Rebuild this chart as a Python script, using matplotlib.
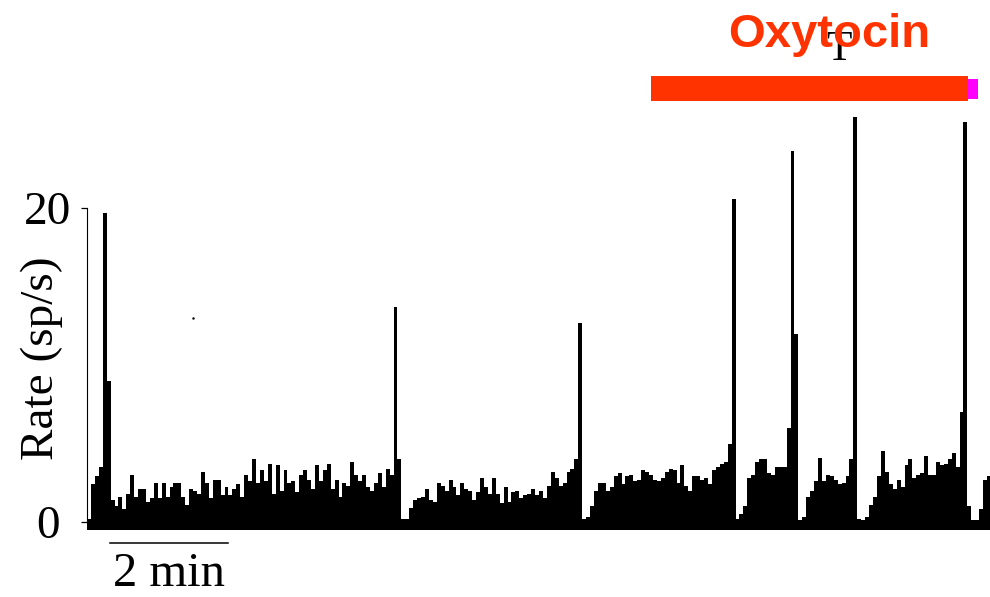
import numpy as np
import matplotlib
matplotlib.use('Agg')
import matplotlib.pyplot as plt
from matplotlib.patches import Rectangle

# spike rate, 4 s bins (sp/s)
bin_s = 4
rate = [
    0.2, 2.4, 2.9, 3.5, 19.7, 9.0, 1.4, 1.0, 1.6, 0.8,
    1.8, 3.0, 1.6, 2.1, 2.1, 1.3, 1.5, 2.5, 1.5, 2.5,
    1.6, 2.2, 2.5, 2.5, 1.6, 1.1, 2.1, 2.0, 1.8, 3.2,
    2.5, 1.5, 2.7, 2.7, 1.7, 2.2, 1.7, 2.1, 2.4, 1.6,
    3.0, 2.6, 4.0, 2.5, 3.3, 2.6, 3.7, 1.8, 3.6, 2.0,
    3.3, 2.5, 2.6, 1.9, 3.0, 3.3, 2.7, 2.1, 3.6, 2.6,
    3.3, 3.7, 2.1, 2.7, 1.6, 2.5, 2.3, 3.8, 3.0, 2.6,
    3.0, 2.2, 2.0, 2.5, 3.1, 2.2, 3.4, 3.0, 13.7, 4.0,
    0.2, 0.2, 0.9, 1.4, 1.5, 1.6, 2.1, 1.4, 1.3, 2.5,
    2.3, 2.0, 2.7, 2.2, 1.7, 2.5, 2.1, 2.0, 1.4, 1.9,
    2.8, 2.2, 1.8, 2.8, 1.8, 1.2, 2.2, 1.3, 1.9, 2.0,
    1.5, 1.7, 1.8, 2.1, 1.7, 2.0, 1.5, 2.3, 3.2, 2.8,
    2.3, 2.5, 3.2, 3.4, 4.0, 12.7, 0.2, 0.3, 1.0, 2.0,
    2.5, 2.5, 2.0, 2.2, 2.9, 3.1, 2.4, 2.9, 3.0, 2.6,
    2.7, 3.3, 3.2, 3.0, 2.7, 2.6, 2.8, 3.2, 3.4, 3.3,
    2.5, 3.6, 2.3, 2.0, 2.9, 2.9, 2.7, 2.8, 2.4, 3.3,
    3.5, 3.7, 3.8, 5.0, 20.6, 0.2, 0.5, 1.0, 2.8, 3.0,
    3.8, 4.0, 4.0, 3.1, 3.0, 3.5, 3.5, 3.5, 6.0, 23.6,
    12.0, 0.1, 0.3, 1.6, 2.0, 2.6, 4.1, 2.6, 3.0, 2.9,
    2.7, 2.4, 2.5, 2.9, 4.0, 25.8, 0.2, 0.1, 0.3, 1.1,
    1.6, 2.9, 4.5, 3.2, 2.4, 2.1, 2.7, 2.2, 3.6, 4.0,
    2.8, 3.0, 3.1, 4.2, 3.0, 3.0, 3.8, 3.6, 3.7, 4.0,
    4.4, 3.5, 7.0, 25.5, 1.0, 0.1, 0.1, 0.8, 2.7, 2.9,
]
yticks = [0, 20]

# oxytocin application (s)
oxy_start, oxy_end = 574, 897
oxy_tail = 907
scale_start, scale_len = 23.4, 120  # 2 min bar

plt.rcParams['font.family'] = ['Liberation Serif', 'DejaVu Serif']

fig = plt.figure(figsize=(9.9, 5.97), dpi=100)
ax = fig.add_axes([87 / 990, 66 / 597, 903 / 990, 531 / 597])

edges = np.arange(len(rate) + 1) * bin_s
ax.stairs(rate, edges, baseline=-0.5, fill=True, color='black', linewidth=0)

ax.set_xlim(0, 919)
ax.set_ylim(-0.573, 33.25)

for s in ['top', 'right', 'bottom']:
    ax.spines[s].set_visible(False)
ax.spines['left'].set_bounds(0, 20)
ax.spines['left'].set_linewidth(0.8)
ax.set_xticks([])
ax.set_yticks(yticks)
ax.set_yticklabels([str(t) for t in yticks])
ax.tick_params(axis='y', length=4.3, width=0.9, pad=24, labelsize=34)
for lab in ax.get_yticklabels():
    lab.set_ha('center')

fig.text(42 / 990, 1 - 358 / 597, 'Rate (sp/s)', rotation=90,
         ha='center', va='center', fontsize=34)

# scale bar
ax.plot([scale_start, scale_start + scale_len], [-1.34, -1.34],
        color='black', lw=1.1, clip_on=False)
fig.text(113 / 990, 1 - 586 / 597, '2 min', ha='left', va='baseline', fontsize=35)

# oxytocin bar + label
ax.add_patch(Rectangle((oxy_start, 26.8), oxy_end - oxy_start, 1.6,
                       color='#ff3300', linewidth=0))
ax.add_patch(Rectangle((oxy_end, 26.95), oxy_tail - oxy_end, 1.25,
                       color='#ff00ff', linewidth=0))
ax.text(765, 29.4, 'T', ha='center', va='baseline', fontsize=30,
        color='black', zorder=3)
ax.text(755, 30.25, 'Oxytocin', ha='center', va='baseline', fontsize=34,
        color='#ff3300', fontweight='bold', family='Liberation Sans', zorder=4)

ax.plot([108], [13.0], marker='.', ms=1.5, color='black')

fig.savefig('out.png', dpi=100)
